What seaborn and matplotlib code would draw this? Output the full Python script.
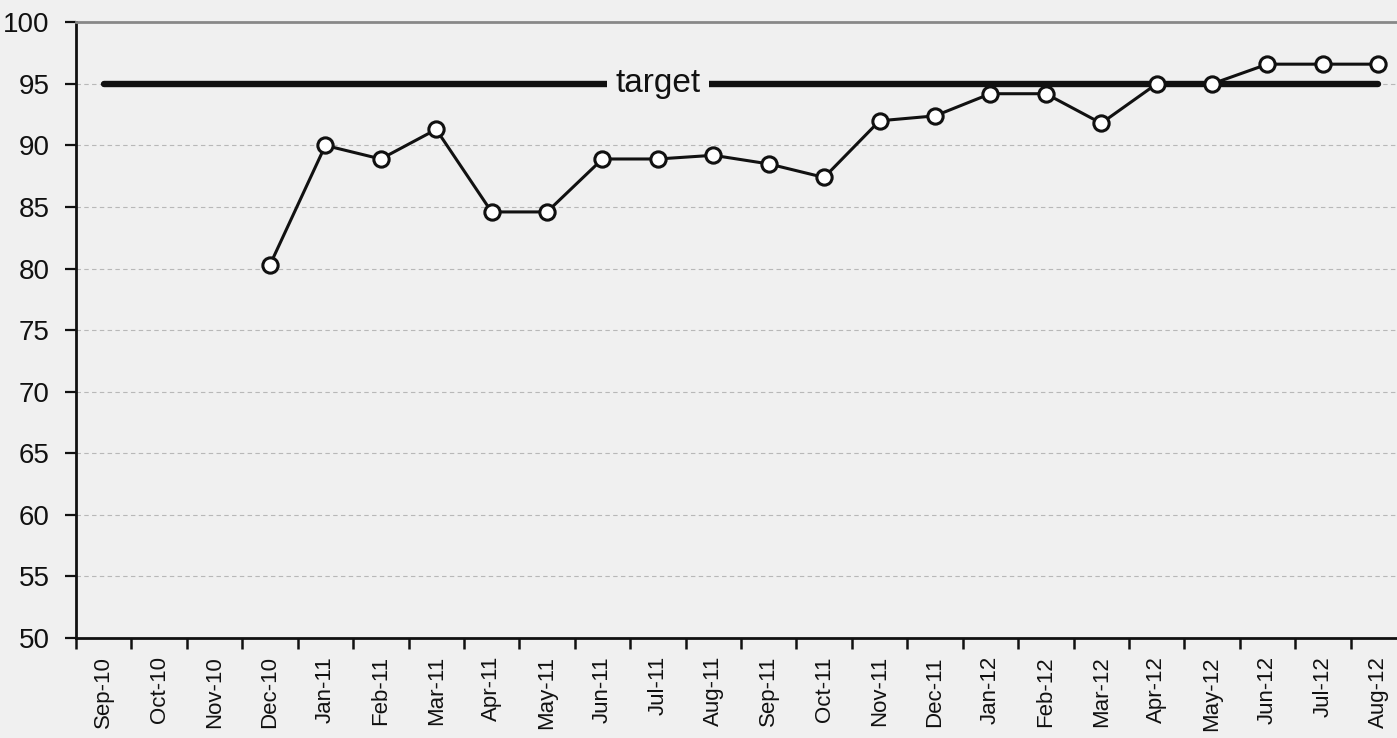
import numpy as np
import pandas as pd
import matplotlib
matplotlib.use("Agg")
import matplotlib.pyplot as plt
import seaborn as sns

months = ["Sep-10", "Oct-10", "Nov-10", "Dec-10", "Jan-11", "Feb-11", "Mar-11", "Apr-11",
          "May-11", "Jun-11", "Jul-11", "Aug-11", "Sep-11", "Oct-11", "Nov-11", "Dec-11",
          "Jan-12", "Feb-12", "Mar-12", "Apr-12", "May-12", "Jun-12", "Jul-12", "Aug-12"]
values = [np.nan, np.nan, np.nan, 80.3, 90.0, 88.9, 91.3, 84.6,
          84.6, 88.9, 88.9, 89.2, 88.5, 87.4, 92.0, 92.4,
          94.2, 94.2, 91.8, 95.0, 95.0, 96.6, 96.6, 96.6]
target = 95
yticks = [50, 55, 60, 65, 70, 75, 80, 85, 90, 95, 100]

bg = "#f0f0f0"
sns.set_style("white")
plt.rcParams["font.family"] = ["Liberation Sans", "DejaVu Sans"]

df = pd.DataFrame({"pos": np.arange(len(months)), "month": months, "value": values})
df["target"] = target

fig = plt.figure(figsize=(13.97, 7.38), dpi=100, facecolor=bg)
ax = fig.add_axes([76 / 1397, 1 - 638 / 738, (1406 - 76) / 1397, (638 - 22.3) / 738])
ax.set_facecolor(bg)

# gridlines
for t in yticks[1:-1]:
    ax.axhline(t, color="#b8b8b8", lw=0.8, ls=(0, (4, 3)), zorder=0)

# target line
sns.lineplot(data=df, x="pos", y="target", color="#111111", lw=4.6,
             solid_capstyle="round", ax=ax, zorder=2)
ax.text(10, target, "target", ha="center", va="center", fontsize=24, color="#111111",
        bbox=dict(facecolor=bg, edgecolor="none", pad=6), zorder=3)

# data line
sns.lineplot(data=df.dropna(), x="pos", y="value", color="#111111", lw=2.2,
             marker="o", markersize=11, markerfacecolor="white",
             markeredgecolor="#111111", markeredgewidth=2.2, ax=ax, zorder=4)

ax.set_xlim(-0.5, len(months) - 0.5)
ax.set_ylim(50, 100)
ax.set_yticks(yticks)
ax.set_yticklabels([str(t) for t in yticks], fontsize=20, color="#111111")
ax.set_xticks(df["pos"])
ax.set_xticklabels(months, rotation=90, fontsize=16, color="#111111")
ax.set_xticks(np.arange(len(months) + 1) - 0.5, minor=True)
ax.tick_params(axis="x", which="major", bottom=True, length=0, pad=13)
ax.tick_params(axis="x", which="minor", bottom=True, length=8, width=1.8,
               color="#111111", direction="out")
ax.tick_params(axis="y", left=True, length=8, width=1.6, color="#111111",
               direction="out", pad=11)
ax.set_xlabel("")
ax.set_ylabel("")

for side in ["left", "bottom"]:
    ax.spines[side].set_color("#111111")
    ax.spines[side].set_linewidth(2)
ax.spines["top"].set_color("#888888")
ax.spines["top"].set_linewidth(2)
ax.spines["right"].set_visible(False)

fig.savefig("out.png", dpi=100, facecolor=bg)
